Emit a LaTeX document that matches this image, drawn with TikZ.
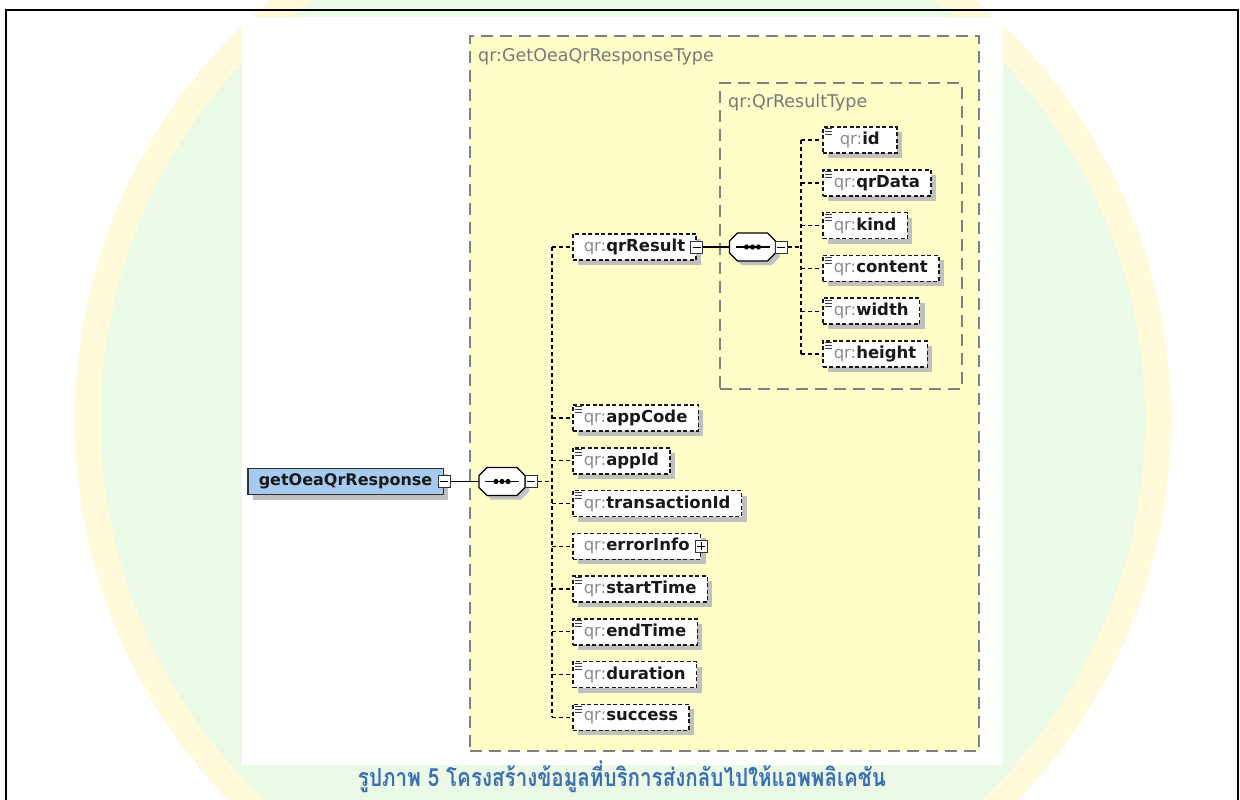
\documentclass[tikz,border=0pt]{standalone}
\usepackage{fontspec}
\usetikzlibrary{shadows}
\newfontfamily\dvs{DejaVu Sans}
\newfontfamily\thaifont[Script=Thai]{Loma}
\definecolor{boxyellow}{RGB}{255,253,200}
\definecolor{rootblue}{RGB}{166,202,240}
\definecolor{titlegray}{RGB}{120,120,120}
\definecolor{prefgray}{RGB}{140,140,140}
\definecolor{shadowgray}{RGB}{192,192,192}
\definecolor{capblue}{RGB}{60,110,180}
\definecolor{wmyellow}{RGB}{255,250,218}
\definecolor{wmgreen}{RGB}{234,250,230}
\newcommand\qrp{{\mdseries\color{prefgray}qr:}}
\newcommand\togminus[1]{\draw[line width=1pt] ([xshift=2.5pt]#1.west) -- ([xshift=-2.5pt]#1.east);}
\newcommand\togplus[1]{\togminus{#1}\draw[line width=1pt] ([yshift=2.5pt]#1.south) -- ([yshift=-2.5pt]#1.north);}
\newcommand\elicon[1]{\draw[line width=.8pt, black!75] ([shift={(3,2.5)}]#1.north west) -- ++(7,0) ([shift={(3,5.5)}]#1.north west) -- ++(7,0) ([shift={(3,8.5)}]#1.north west) -- ++(7,0);}
\newcommand\octpath{(-23,-6) -- (-15,-14) -- (15,-14) -- (23,-6) -- (23,6) -- (15,14) -- (-15,14) -- (-23,6) -- cycle}
\newcommand\seqoct[3]{%
  \begin{scope}[shift={(#2,#3)}]
    \fill[shadowgray, shift={(4,4)}] \octpath;
    \draw[fill=white, line width=1.3pt] \octpath;
    \draw[line width=1.3pt] (-17,0) -- (17,0);
    \fill (-6,0) circle (2.6) (0,0) circle (2.6) (6,0) circle (2.6);
  \end{scope}
  \node[seqanchor] (#1) at (#2,#3) {};}
\tikzset{
  typebox/.style={draw=black!50, line width=1.6pt, dash pattern=on 12pt off 7pt, fill=boxyellow, anchor=north west, inner sep=0},
  inbox/.style={draw=black!50, line width=1.6pt, dash pattern=on 12pt off 7pt, anchor=north west, inner sep=0},
  typetitle/.style={anchor=base west, inner sep=0, text=titlegray, font=\dvs\fontsize{17.5}{20}\selectfont},
  elem/.style={draw=black!90, line width=1.5pt, dash pattern=on 4pt off 2.5pt, fill=white, minimum height=26, inner xsep=11, inner ysep=0, anchor=west, font=\dvs\bfseries\fontsize{16.5}{19}\selectfont, text=black!90, drop shadow={shadow xshift=5pt, shadow yshift=-5pt, fill=shadowgray, opacity=1}},
  celem/.style={elem, minimum width=74},
  rootbox/.style={draw=black!80, line width=1.5pt, fill=rootblue, minimum height=26, inner xsep=11, inner ysep=0, anchor=west, font=\dvs\bfseries\fontsize{16}{19}\selectfont, text=black!90, drop shadow={shadow xshift=5pt, shadow yshift=-5pt, fill=shadowgray, opacity=1}},
  tog/.style={draw=black!80, fill=white, line width=1pt, minimum size=12, inner sep=0},
  seqanchor/.style={minimum width=46, minimum height=28, inner sep=0},
  conn/.style={line width=1.4pt, dash pattern=on 4pt off 3pt},
  link/.style={line width=1.3pt},
}
\begin{document}
\begin{tikzpicture}[x=1pt,y=-1pt]
\useasboundingbox (0,0) rectangle (1240,800);
\fill[white] (0,0) rectangle (1240,800);
\begin{scope}
  \clip (0,0) rectangle (1240,800);
  \fill[wmyellow] (623,420) circle (548);
  \fill[wmgreen] (623,420) circle (522);
\end{scope}
\fill[white] (242,17) rectangle (1003,765);
\draw[line width=2pt] (6,800) -- (6,10) -- (1238,10) -- (1238,800);

% type boxes
\node[typebox, minimum width=509, minimum height=715] (outer) at (469,35) {};
\node[typetitle] (outertitle) at (478,62) {qr:GetOeaQrResponseType};
\node[inbox, minimum width=242, minimum height=306] (inner) at (719,82) {};
\node[typetitle] (innertitle) at (728,107) {qr:QrResultType};

% root element
\node[rootbox] (root) at (247,481.5) {getOeaQrResponse\hspace{5pt}};
\node[tog] (rt) at (root.east) {}; \togminus{rt}
\seqoct{seq1}{502}{481.5}
\node[tog] (st1) at (531,481.5) {}; \togminus{st1}

% main children
\node[elem] (qrResult) at (572,247) {\qrp qrResult\hspace{4pt}};
\node[tog] (qt) at (qrResult.east) {}; \togminus{qt}
\node[elem] (appCode) at (572,418) {\qrp appCode}; \elicon{appCode}
\node[elem] (appId) at (572,460.75) {\qrp appId}; \elicon{appId}
\node[elem] (transactionId) at (572,503.5) {\qrp transactionId}; \elicon{transactionId}
\node[elem] (errorInfo) at (572,546.25) {\qrp errorInfo\hspace{4pt}};
\node[tog] (et) at (errorInfo.east) {}; \togplus{et}
\node[elem] (startTime) at (572,589) {\qrp startTime}; \elicon{startTime}
\node[elem] (endTime) at (572,631.75) {\qrp endTime}; \elicon{endTime}
\node[elem] (duration) at (572,674.5) {\qrp duration}; \elicon{duration}
\node[elem] (success) at (572,717.25) {\qrp success}; \elicon{success}

% qrResult sequence
\seqoct{seq2}{752.5}{247}
\node[tog] (st2) at (781,247) {}; \togminus{st2}

% QrResultType children
\node[celem] (cid) at (822,140) {\qrp id}; \elicon{cid}
\node[celem] (cqrData) at (822,182.8) {\qrp qrData}; \elicon{cqrData}
\node[celem] (ckind) at (822,225.6) {\qrp kind}; \elicon{ckind}
\node[celem] (ccontent) at (822,268.4) {\qrp content}; \elicon{ccontent}
\node[celem] (cwidth) at (822,311.2) {\qrp width}; \elicon{cwidth}
\node[celem] (cheight) at (822,354) {\qrp height}; \elicon{cheight}

% connectors
\coordinate (vtop) at (552,247);
\coordinate (vbot) at (552,717.25);
\coordinate (wtop) at (801,140);
\coordinate (wbot) at (801,354);
\draw[link] (rt.east) -- (seq1.west);
\draw[conn] (st1.east) -- (st1.east -| vtop);
\draw[conn] (vtop) -- (vbot);
\foreach \n in {qrResult,appCode,appId,transactionId,errorInfo,startTime,endTime,duration,success}
  \draw[conn] (\n.west -| vtop) -- (\n.west);
\draw[link] (qt.east) -- (seq2.west);
\draw[conn] (st2.east) -- (st2.east -| wtop);
\draw[conn] (wtop) -- (wbot);
\foreach \n in {cid,cqrData,ckind,ccontent,cwidth,cheight}
  \draw[conn] (\n.west -| wtop) -- (\n.west);

% caption
\node[anchor=base, inner sep=0, text=capblue] (caption) at (622,786) {\resizebox{528pt}{\height}{\thaifont\bfseries\fontsize{25}{29}\selectfont รูปภาพ 5 โครงสร้างข้อมูลที่บริการส่งกลับไปให้แอพพลิเคชัน}};
\end{tikzpicture}
\end{document}
